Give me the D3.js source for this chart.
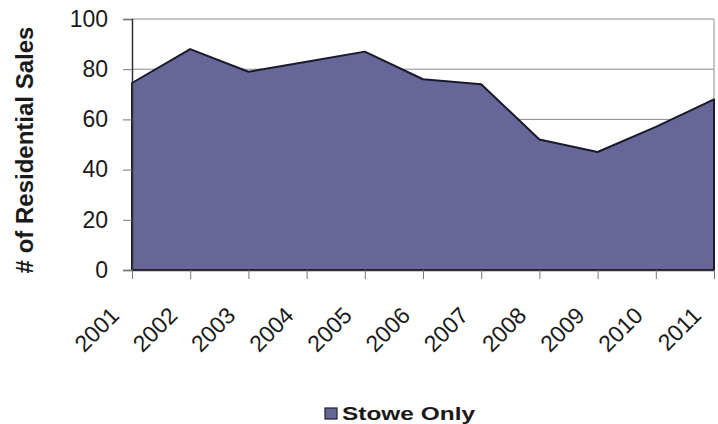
<!DOCTYPE html>
<html>
<head>
<meta charset="utf-8">
<script src="https://cdn.jsdelivr.net/npm/d3@7"></script>
<style>
  body { margin: 0; background: #fff; }
  svg { display: block; font-family: Arial, "Liberation Sans", sans-serif; }
</style>
</head>
<body>
<svg id="chart" width="718" height="424"></svg>
<script>
// Data
const years = ["2001", "2002", "2003", "2004", "2005", "2006", "2007", "2008", "2009", "2010", "2011"];
const sales = [74.5, 88, 79, 83, 87, 76, 74, 52, 47, 57, 68];
const yTicks = [0, 20, 40, 60, 80, 100];
const seriesName = "Stowe Only";

const margin = { top: 19, right: 4, bottom: 154, left: 132 };
const width = 718 - margin.left - margin.right;
const height = 424 - margin.top - margin.bottom;

const svg = d3.select("#chart");
const g = svg.append("g")
  .attr("transform", `translate(${margin.left},${margin.top})`);

const x = d3.scalePoint()
  .domain(years)
  .range([0, width]);

const y = d3.scaleLinear()
  .domain([0, 100])
  .range([height, 0]);

// Gridlines
g.append("g")
  .selectAll("line")
  .data(yTicks.filter(d => d > 0))
  .enter()
  .append("line")
  .attr("x1", 0)
  .attr("x2", width)
  .attr("y1", d => y(d))
  .attr("y2", d => y(d))
  .attr("stroke", "#8c8c8c")
  .attr("stroke-width", 1);

// Right border of plot area
g.append("line")
  .attr("x1", width).attr("x2", width)
  .attr("y1", 0).attr("y2", height)
  .attr("stroke", "#8c8c8c");

// Area
const data = years.map((yr, i) => ({ year: yr, value: sales[i] }));
const area = d3.area()
  .x(d => x(d.year))
  .y0(height)
  .y1(d => y(d.value));

g.append("path")
  .datum(data)
  .attr("d", area)
  .attr("fill", "#666699")
  .attr("stroke", "#1a1a2a")
  .attr("stroke-width", 2)
  .attr("stroke-linejoin", "round");

// Y axis
const yAxis = g.append("g")
  .call(d3.axisLeft(y).tickValues(yTicks).tickSize(9).tickPadding(15));
yAxis.select(".domain").attr("stroke", "#333").attr("stroke-width", 1.5);
yAxis.selectAll(".tick line").attr("stroke", "#777");
yAxis.selectAll("text")
  .attr("fill", "#1a1a1a")
  .style("font-size", "23px");

// X axis
const xAxis = g.append("g")
  .attr("transform", `translate(0,${height})`)
  .call(d3.axisBottom(x).tickSize(9).tickSizeOuter(0));
xAxis.select(".domain").attr("stroke", "#333").attr("stroke-width", 1.5);
xAxis.selectAll(".tick line").attr("stroke", "#777");
xAxis.selectAll("text")
  .attr("fill", "#1a1a1a")
  .style("font-size", "23px")
  .attr("text-anchor", "end")
  .attr("dy", null)
  .attr("y", null)
  .attr("transform", "translate(-12,47) rotate(-45)");

// Y axis title
svg.append("text")
  .attr("transform", "translate(33,150) rotate(-90)")
  .attr("text-anchor", "middle")
  .style("font-size", "24px")
  .style("font-weight", "bold")
  .attr("fill", "#1a1a1a")
  .text("# of Residential Sales");

// Legend
const legend = svg.append("g").attr("transform", "translate(325,408)");
legend.append("rect")
  .attr("width", 12)
  .attr("height", 11)
  .attr("fill", "#666699")
  .attr("stroke", "#222")
  .attr("stroke-width", 1.2);
legend.append("text")
  .attr("x", 17)
  .attr("y", 11.5)
  .attr("textLength", 133)
  .attr("lengthAdjust", "spacingAndGlyphs")
  .style("font-size", "18px")
  .style("font-weight", "bold")
  .attr("fill", "#1a1a1a")
  .text(seriesName);
</script>
</body>
</html>
